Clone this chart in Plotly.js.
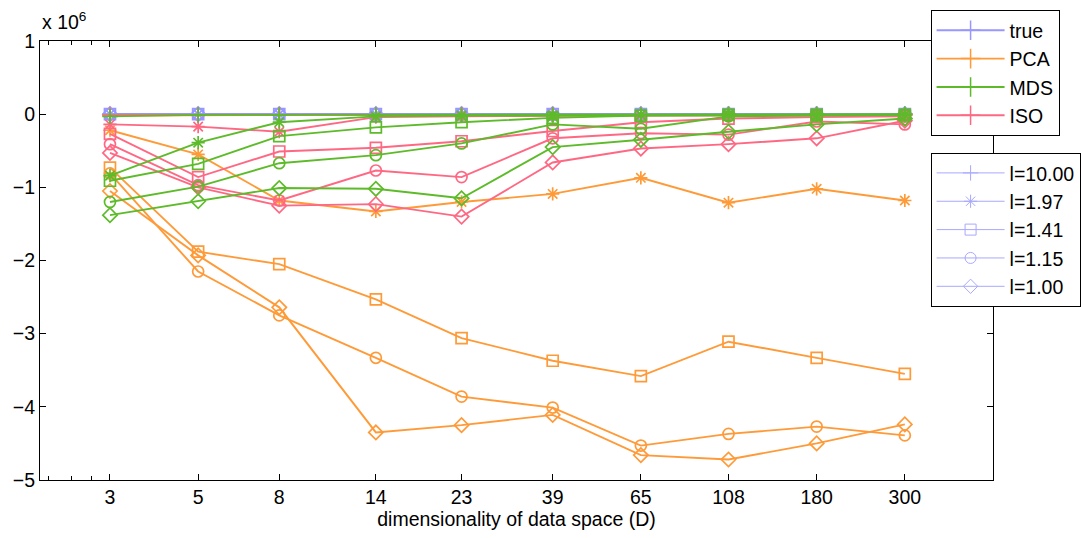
<!DOCTYPE html>
<html>
<head>
<meta charset="utf-8">
<script src="https://cdn.plot.ly/plotly-3.0.1.min.js"></script>
<style>
  html, body { margin: 0; padding: 0; background: #fff; }
  #chart { width: 1081px; height: 538px; }
</style>
</head>
<body>
<div id="chart"></div>
<script>
// Dimensionality of the data space (log-spaced)
const D = [3, 5, 8, 14, 23, 39, 65, 108, 180, 300];
const tickLabels = ['3', '5', '8', '14', '23', '39', '65', '108', '180', '300'];

// Length-scale labels and their marker symbols
const lengthScales = ['l=10.00', 'l=1.97', 'l=1.41', 'l=1.15', 'l=1.00'];

// Values in units of 10^6
const true_l1000 = [0, 0, 0, 0, 0, 0, 0, 0, 0, 0];
const true_l197  = [0, 0, 0, 0, 0, 0, 0, 0, 0, 0];
const true_l141  = [0, 0, 0, 0, 0, 0, 0, 0, 0, 0];
const true_l115  = [0, 0, 0, 0, 0, 0, 0, 0, 0, 0];
const true_l100  = [0, 0, 0, 0, 0, 0, 0, 0, 0, 0];

const pca_l1000 = [-0.02, -0.01, -0.01, -0.01, -0.01, -0.01, -0.01, -0.01, -0.01, -0.01];
const pca_l197  = [-0.22, -0.55, -1.18, -1.33, -1.20, -1.09, -0.87, -1.21, -1.02, -1.18];
const pca_l141  = [-0.73, -1.88, -2.05, -2.53, -3.06, -3.37, -3.58, -3.11, -3.33, -3.55];
const pca_l115  = [-0.81, -2.15, -2.75, -3.33, -3.86, -4.01, -4.53, -4.37, -4.27, -4.39];
const pca_l100  = [-1.05, -1.93, -2.64, -4.35, -4.25, -4.11, -4.66, -4.72, -4.50, -4.24];

const mds_l1000 = [-0.03, -0.01, -0.01, -0.01, -0.01, -0.01, -0.01, 0.00, 0.00, 0.00];
const mds_l197  = [-0.84, -0.39, -0.11, -0.03, -0.02, -0.02, -0.01, -0.01, -0.01, -0.01];
const mds_l141  = [-0.91, -0.68, -0.30, -0.18, -0.11, -0.05, -0.02, -0.01, -0.01, -0.01];
const mds_l115  = [-1.20, -0.99, -0.67, -0.56, -0.40, -0.14, -0.20, -0.03, -0.02, -0.01];
const mds_l100  = [-1.38, -1.19, -1.01, -1.02, -1.15, -0.45, -0.35, -0.24, -0.14, -0.06];

const iso_l1000 = [-0.01, -0.01, -0.01, -0.01, -0.01, -0.01, -0.01, -0.01, -0.01, -0.01];
const iso_l197  = [-0.14, -0.17, -0.24, -0.04, -0.03, -0.02, -0.02, -0.02, -0.02, -0.02];
const iso_l141  = [-0.27, -0.86, -0.51, -0.46, -0.37, -0.23, -0.11, -0.06, -0.04, -0.03];
const iso_l115  = [-0.41, -0.97, -1.18, -0.77, -0.86, -0.33, -0.26, -0.28, -0.10, -0.14];
const iso_l100  = [-0.53, -1.00, -1.25, -1.23, -1.40, -0.66, -0.47, -0.41, -0.33, -0.09];

const methods = {
  true: { name: 'true', color: '#9797ff', series: [true_l1000, true_l197, true_l141, true_l115, true_l100] },
  PCA:  { name: 'PCA',  color: '#ff9a38', series: [pca_l1000, pca_l197, pca_l141, pca_l115, pca_l100] },
  MDS:  { name: 'MDS',  color: '#5dbb2a', series: [mds_l1000, mds_l197, mds_l141, mds_l115, mds_l100] },
  ISO:  { name: 'ISO',  color: '#ff6883', series: [iso_l1000, iso_l197, iso_l141, iso_l115, iso_l100] }
};
const legendOrder = ['true', 'PCA', 'MDS', 'ISO'];
const drawOrder = ['true', 'PCA', 'ISO', 'MDS'];
const symbols = ['cross-thin-open', 'asterisk-open', 'square-open', 'circle-open', 'diamond-open'];

const traces = [];
drawOrder.forEach(function (key) {
  const m = methods[key];
  m.series.forEach(function (vals, k) {
    traces.push({
      type: 'scatter', mode: 'lines+markers',
      x: D, y: vals,
      name: m.name + ' ' + lengthScales[k],
      showlegend: false,
      line: { color: m.color, width: 1.9 },
      marker: { symbol: symbols[k], size: 11, color: m.color, line: { color: m.color, width: 1.7 } },
      hoverinfo: 'x+y+name'
    });
  });
});

// Key 1: one entry per method
legendOrder.forEach(function (key) {
  const m = methods[key];
  traces.push({
    type: 'scatter', mode: 'lines+markers',
    x: [null], y: [null],
    name: m.name,
    legend: 'legend', legendgroup: m.name, showlegend: true,
    line: { color: m.color, width: 1.9 },
    marker: { symbol: 'cross-thin-open', size: 14, color: m.color, line: { color: m.color, width: 1.5 } }
  });
});

// Key 2: marker shape per length scale
lengthScales.forEach(function (lab, k) {
  traces.push({
    type: 'scatter', mode: 'lines+markers',
    x: [null], y: [null],
    name: lab,
    legend: 'legend2', legendgroup: lab, showlegend: true,
    line: { color: '#a8a8ff', width: 1 },
    marker: { symbol: symbols[k], size: 11, color: '#a8a8ff', line: { color: '#a8a8ff', width: 1 } }
  });
});

const font = { family: 'Liberation Sans, Arial, Helvetica, sans-serif', size: 19.5, color: '#000' };

const layout = {
  width: 1081, height: 538,
  margin: { l: 40, r: 88, t: 41, b: 58, autoexpand: false },
  paper_bgcolor: '#fff', plot_bgcolor: '#fff',
  font: font,
  showlegend: true,
  xaxis: {
    type: 'log',
    range: [Math.log10(2), Math.log10(500)],
    tickmode: 'array', tickvals: D, ticktext: tickLabels,
    ticks: 'inside', ticklen: 6, tickcolor: '#000', tickwidth: 1,
    showline: true, linecolor: '#000', linewidth: 1, mirror: 'ticks',
    showgrid: false, zeroline: false,
    tickfont: font,
    minor: { tickmode: 'array', tickvals: [2.1, 2.4, 2.7], ticks: 'inside', ticklen: 4, tickcolor: '#000', showgrid: false },
    title: { text: 'dimensionality of data space (D)', font: font, standoff: 4 }
  },
  yaxis: {
    range: [-5, 1], tick0: 0, dtick: 1,
    ticks: 'inside', ticklen: 6, tickcolor: '#000', tickwidth: 1,
    showline: true, linecolor: '#000', linewidth: 1, mirror: 'ticks',
    showgrid: false, zeroline: false,
    tickfont: font
  },
  legend: {
    x: 0.9345, xanchor: 'left', y: 1.0705, yanchor: 'top',
    bgcolor: '#fff', bordercolor: '#000', borderwidth: 1,
    font: font, traceorder: 'grouped', tracegroupgap: 0, itemwidth: 68
  },
  legend2: {
    x: 0.9345, xanchor: 'left', y: 0.7455, yanchor: 'top',
    bgcolor: '#fff', bordercolor: '#000', borderwidth: 1,
    font: font, traceorder: 'grouped', tracegroupgap: 0, itemwidth: 68
  },
  annotations: [{
    xref: 'paper', yref: 'paper', x: 0, y: 1,
    xanchor: 'left', yanchor: 'bottom', yshift: 6,
    text: 'x 10<sup>6</sup>', showarrow: false, font: font
  }]
};

Plotly.newPlot('chart', traces, layout, { displayModeBar: false, staticPlot: true });
</script>
</body>
</html>
